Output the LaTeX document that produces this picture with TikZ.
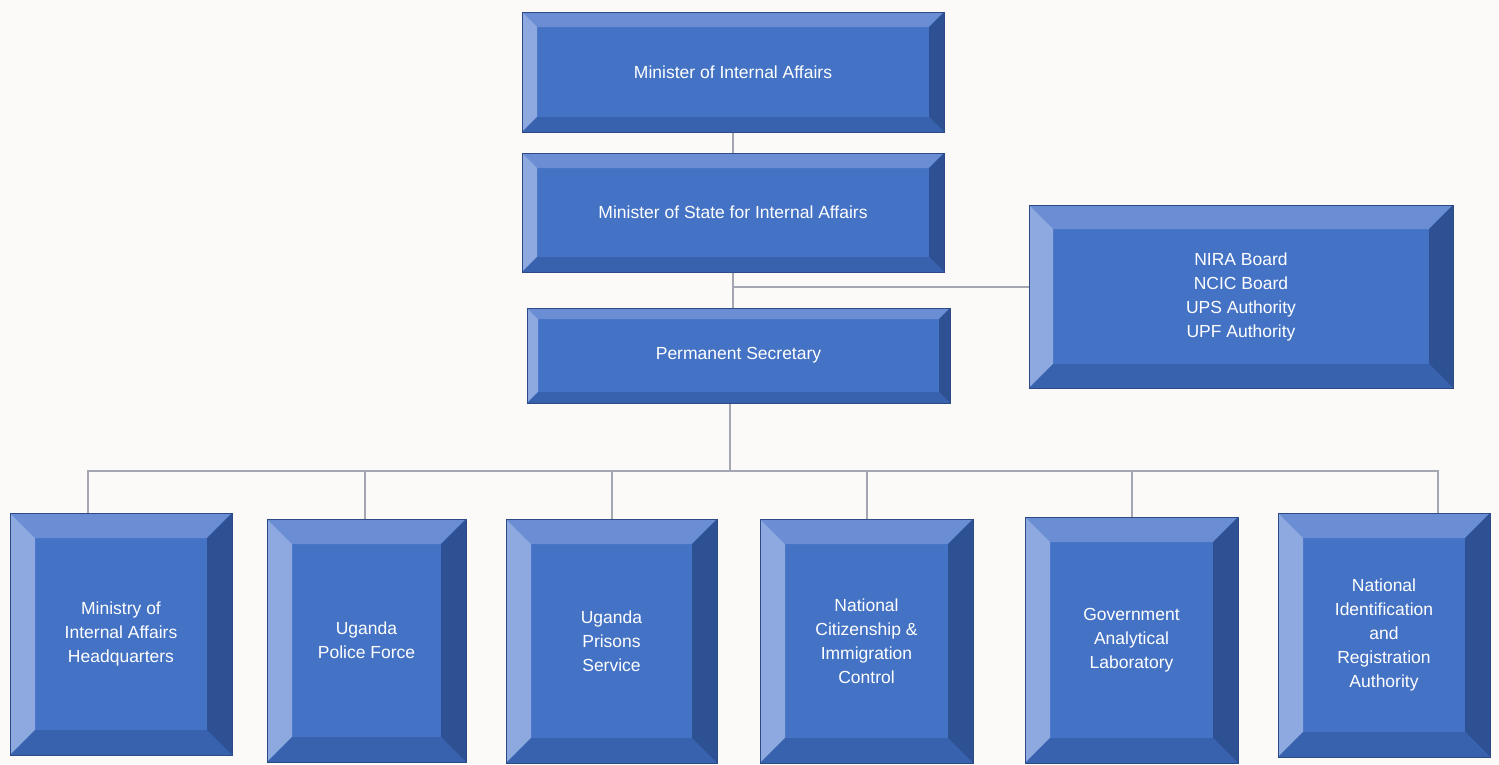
\documentclass[tikz,border=0pt]{standalone}
\usepackage{fontspec}
\setmainfont{Liberation Sans}
\definecolor{bg}{HTML}{FBFAF8}
\definecolor{bFace}{HTML}{4472C4}
\definecolor{bTop}{HTML}{6A8DD3}
\definecolor{bLeft}{HTML}{8DA9DF}
\definecolor{bRight}{HTML}{2D5192}
\definecolor{bBottom}{HTML}{3862AD}
\definecolor{bOut}{HTML}{2B4A86}
\definecolor{lineC}{HTML}{A4A6B2}
\tikzset{
  bevelbox/.style={rectangle, draw=bOut, line width=1pt, fill=bFace, inner sep=0pt,
    text=white, align=center, font=\fontsize{17.5}{24}\selectfont,
    path picture={
      \fill[bTop] (path picture bounding box.north west) -- (path picture bounding box.north east)
        -- ([xshift=-#1,yshift=-#1]path picture bounding box.north east)
        -- ([xshift=#1,yshift=-#1]path picture bounding box.north west) -- cycle;
      \fill[bLeft] (path picture bounding box.north west) -- (path picture bounding box.south west)
        -- ([xshift=#1,yshift=#1]path picture bounding box.south west)
        -- ([xshift=#1,yshift=-#1]path picture bounding box.north west) -- cycle;
      \fill[bRight] (path picture bounding box.north east) -- (path picture bounding box.south east)
        -- ([xshift=-#1,yshift=#1]path picture bounding box.south east)
        -- ([xshift=-#1,yshift=-#1]path picture bounding box.north east) -- cycle;
      \fill[bBottom] (path picture bounding box.south west) -- (path picture bounding box.south east)
        -- ([xshift=-#1,yshift=#1]path picture bounding box.south east)
        -- ([xshift=#1,yshift=#1]path picture bounding box.south west) -- cycle;
    }},
  conn/.style={draw=lineC, line width=2pt}
}
\begin{document}
\begin{tikzpicture}[x=1pt,y=-1pt]
\fill[bg] (0,0) rectangle (1499,764);
\useasboundingbox (0,0) rectangle (1499,764);
% top chain
\node[bevelbox=15pt, minimum width=422pt, minimum height=120pt] (m1) at (733,72) {Minister of Internal Affairs};
\node[bevelbox=15pt, minimum width=422pt, minimum height=119pt] (m2) at (733,212.5) {Minister of State for Internal Affairs};
\node[bevelbox=11pt, minimum width=423pt, minimum height=95pt] (ps) at (738.5,355.5) {Permanent Secretary};
\node[bevelbox=24pt, minimum width=424pt, minimum height=183pt] (nira) at (1241,296.5) {NIRA Board\\NCIC Board\\UPS Authority\\UPF Authority};
% bottom row
\node[bevelbox=25pt, minimum width=222pt, minimum height=242pt] (b1) at (121,634) {Ministry of\\Internal Affairs\\Headquarters};
\node[bevelbox=25pt, minimum width=199pt, minimum height=243pt] (b2) at (366.5,640.5) {Uganda\\Police Force};
\node[bevelbox=25pt, minimum width=211pt, minimum height=244pt] (b3) at (611.5,641) {Uganda\\Prisons\\Service};
\node[bevelbox=25pt, minimum width=213pt, minimum height=244pt] (b4) at (866.5,641) {National\\Citizenship \&\\Immigration\\Control};
\node[bevelbox=25pt, minimum width=213pt, minimum height=246pt] (b5) at (1131.5,640) {Government\\Analytical\\Laboratory};
\node[bevelbox=25pt, minimum width=212pt, minimum height=244pt] (b6) at (1384,635) {National\\Identification\\and\\Registration\\Authority};
% junction coordinates
\coordinate (j1) at (733,287);
\coordinate (bus) at (730,471);
\coordinate (d1) at (88,471);
\coordinate (d2) at (365,471);
\coordinate (d3) at (612,471);
\coordinate (d4) at (867,471);
\coordinate (d5) at (1132,471);
\coordinate (d6) at (1438,471);
% connectors
\draw[conn] (m1.south) -- (m2.north);
\draw[conn] (m2.south) -- (m2.south |- ps.north);
\draw[conn] (j1) -- (j1 -| nira.west);
\draw[conn] (bus |- ps.south) -- (bus);
\draw[conn] (d1 |- b1.north) -- (d1) -- (d6) -- (d6 |- b6.north);
\draw[conn] (d2) -- (d2 |- b2.north);
\draw[conn] (d3) -- (d3 |- b3.north);
\draw[conn] (d4) -- (d4 |- b4.north);
\draw[conn] (d5) -- (d5 |- b5.north);
\end{tikzpicture}
\end{document}
